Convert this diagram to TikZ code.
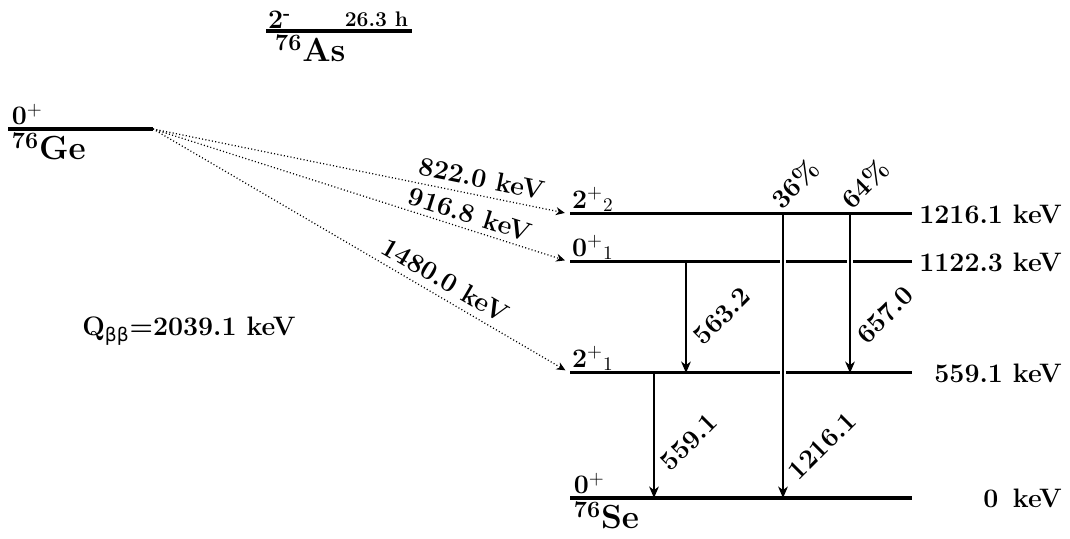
\documentclass[tikz,border=0pt]{standalone}
\usepackage{fontspec}
\newfontfamily\grkfont{DejaVu Sans}
\usepackage{tikz}
\usetikzlibrary{calc,arrows.meta}
\newcommand\lblfont{\fontsize{15.2}{18}\selectfont\bfseries}
\newcommand\nucfont{\fontsize{19}{23}\selectfont\bfseries}
\tikzset{
  level/.style={line width=1.7pt},
  parent/.style={line width=2.3pt},
  gslevel/.style={line width=2.8pt},
  feed/.style={dash pattern=on 0.6pt off 1.3pt, line width=0.7pt, -{Stealth[length=5pt,width=4.5pt,inset=1.5pt]}, shorten >=3pt},
  gamma/.style={line width=1pt, -{Stealth[length=6.5pt,width=5.5pt,inset=2pt]}},
  cross/.style={preaction={draw=white, -, line width=3pt, shorten <=3pt, shorten >=4pt}},
  lbl/.style={font=\lblfont, inner sep=1pt},
  nuc/.style={font=\nucfont, inner sep=2pt},
  rotlbl/.style={lbl, rotate=45},
}

\begin{document}
\begin{tikzpicture}
			%%%%% START %%%%%
			\useasboundingbox (0,0) rectangle (21.4,10.78);
			
			% 76As
			\coordinate (asL) at (5.32,10.16);
			\coordinate (asR) at (8.24,10.16);
			\draw[parent] (asL) -- (asR);
			\node[lbl, anchor=south west] (asspin) at (asL) {2\textsuperscript{-}};
			\node[font=\large\bfseries, anchor=south east, inner sep=2pt] (ashalf) at (asR) {26.3 h};
			\node[nuc, anchor=north west, xshift=3pt] (asname) at (asL) {\textsuperscript{76}As};
			
			% 76Ge
			\coordinate (geL) at (0.16,8.2);
			\coordinate (geR) at (3.06,8.2);
			\draw[parent] (geL) -- (geR);
			\node[lbl, anchor=south west, inner sep=2pt] (gespin) at (geL) {0$^+$};
			\node[nuc, anchor=north west] (gename) at (geL) {\textsuperscript{76}Ge};
			
			\node[lbl] (qbb) at (3.78,4.16) {Q{\grkfont\mdseries\textsubscript{ββ}}=2039.1 keV};
			
			% 76Se levels
			\coordinate (s1216L) at (11.4,6.5);   \coordinate (s1216R) at (18.24,6.5);
			\coordinate (s1122L) at (11.4,5.54);  \coordinate (s1122R) at (18.24,5.54);
			\coordinate (s559L) at (11.4,3.32);   \coordinate (s559R) at (18.24,3.32);
			\coordinate (s0L) at (11.4,0.82);     \coordinate (s0R) at (18.24,0.82);
			
			\draw[level] (s1216L) -- (s1216R);
			\draw[level] (s1122L) -- (s1122R);
			\draw[level] (s559L) -- (s559R);
			\draw[gslevel] (s0L) -- (s0R);
			
			\node[lbl, anchor=south west] (spin1216) at (s1216L) {2$^+{}_2$};
			\node[lbl, anchor=south west] (spin1122) at (s1122L) {0$^+{}_1$};
			\node[lbl, anchor=south west] (spin559) at (s559L) {2$^+{}_1$};
			\node[lbl, anchor=south west, inner sep=2pt] (spin0) at (s0L) {0$^+$};
			\node[nuc, anchor=north west] (sename) at (s0L) {\textsuperscript{76}Se};
			
			\node[lbl, anchor=east] (e1216) at (21.28,6.5) {1216.1 keV};
			\node[lbl, anchor=east] (e1122) at (21.28,5.54) {1122.3 keV};
			\node[lbl, anchor=east] (e559) at (21.28,3.32) {559.1 keV};
			\node[lbl, anchor=east] (e0) at (21.28,0.82) {0 \,keV};
			
			% double beta feeding
			\draw[feed] (geR) -- node[lbl, pos=0.78, sloped, above=3pt] {822.0 keV} (s1216L);
			\draw[feed] (geR) -- node[lbl, pos=0.75, sloped, above=2pt] {916.8 keV} (s1122L);
			\draw[feed] (geR) -- node[lbl, pos=0.68, sloped, above=3pt] {1480.0 keV} (s559L);
			
			% gamma transitions
			\coordinate (g36) at (15.66,0);
			\coordinate (g64) at (17.0,0);
			\coordinate (g563) at (13.72,0);
			\coordinate (g559) at (13.08,0);
			
			\draw[gamma, cross] (s1216L -| g36) -- (s0L -| g36);
			\draw[gamma, cross] (s1216L -| g64) -- (s559L -| g64);
			\draw[gamma] (s1122L -| g563) -- (s559L -| g563);
			\draw[gamma] (s559L -| g559) -- (s0L -| g559);
			
			\node[rotlbl] (b36) at (15.90,7.10) {36\%};
			\node[rotlbl] (b64) at (17.30,7.10) {64\%};
			\node[rotlbl] (l563) at (14.44,4.46) {563.2};
			\node[rotlbl] (l657) at (17.70,4.48) {657.0};
			\node[rotlbl] (l559) at (13.78,1.94) {559.1};
			\node[rotlbl] (l1216) at (16.44,1.86) {1216.1};
			%%%%% END %%%%%
\end{tikzpicture}
\end{document}
